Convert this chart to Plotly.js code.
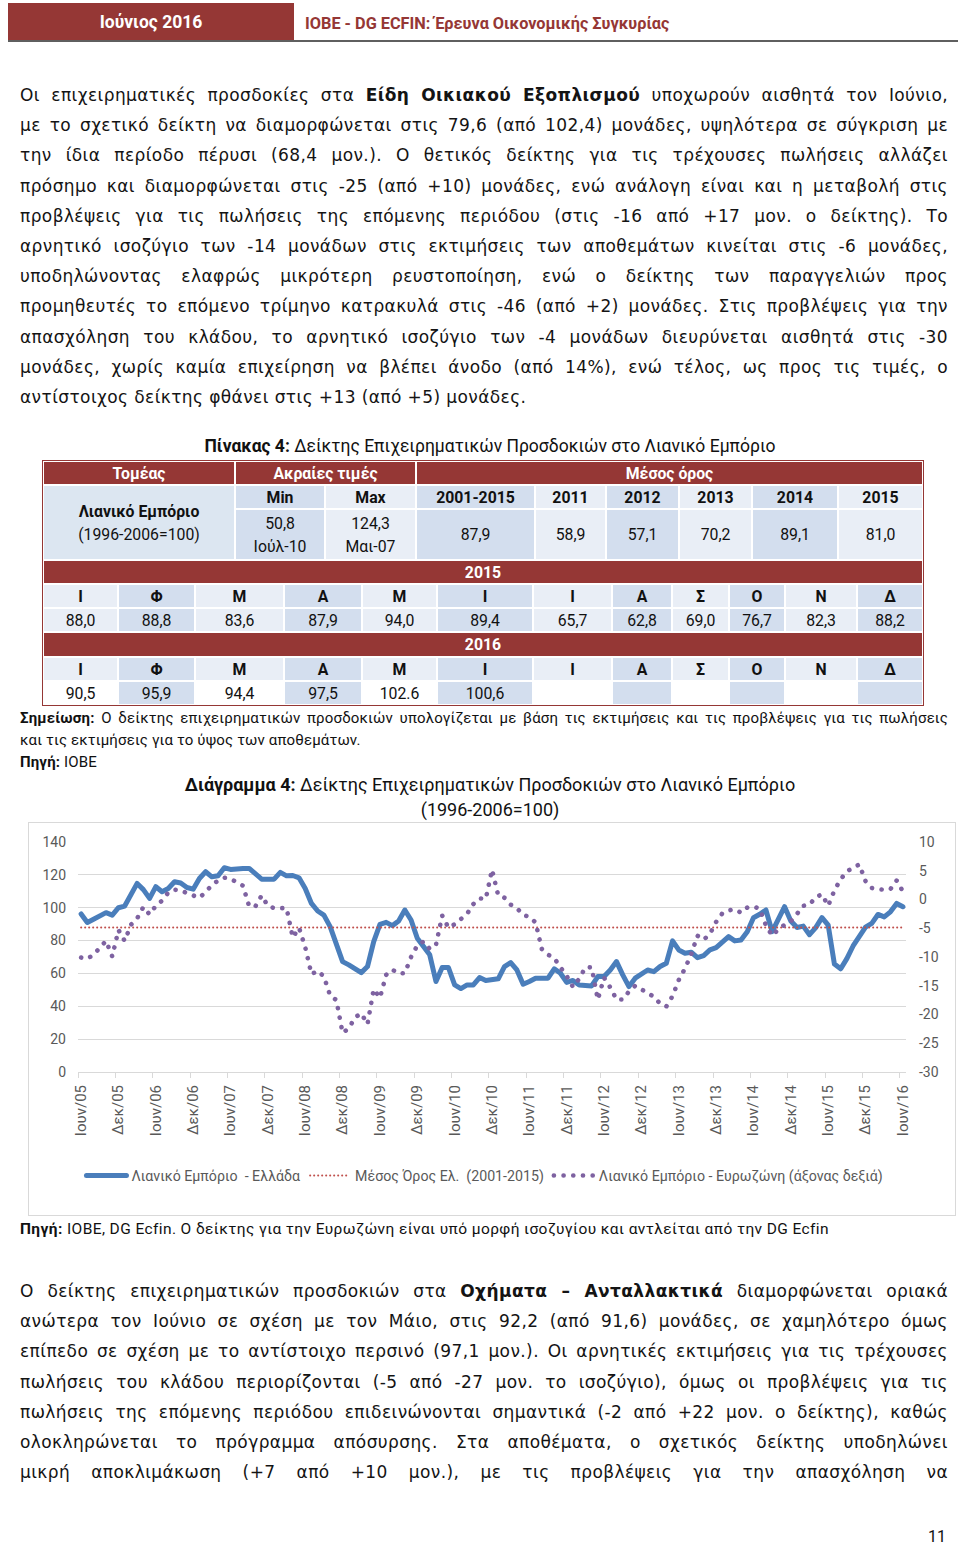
<!DOCTYPE html>
<html><head><meta charset="utf-8">
<script src="https://cdn.plot.ly/plotly-3.0.1.min.js"></script>
<style>
html,body{margin:0;padding:0;background:#fff;}
body{width:960px;height:1548px;position:relative;overflow:hidden;}
.abs{position:absolute;}
.cal{font-family:Roboto,"Noto Sans",sans-serif;}
.para{position:absolute;left:20px;width:928px;font-family:"DejaVu Sans",sans-serif;font-size:17px;letter-spacing:0.4px;color:#141414;}
.para div{height:30.2px;line-height:30.2px;text-align:justify;text-align-last:justify;overflow:visible;}
.para div.last{text-align-last:left;}
.cell{position:absolute;box-sizing:border-box;border:1px solid #fff;display:flex;align-items:center;justify-content:center;text-align:center;font-family:Roboto,"Noto Sans",sans-serif;font-size:15.8px;line-height:23px;color:#111;}
.red{background:#953735;color:#fff;font-weight:bold;}
.b{font-weight:bold;}
.js-line{stroke-linecap:round !important;stroke-linejoin:round !important;}
</style>
</head><body>

<!-- header -->
<div class="abs" style="left:8px;top:3px;width:286px;height:37px;background:#953735;"></div>
<div class="abs cal" style="left:8px;top:3px;width:286px;height:37px;line-height:38px;text-align:center;color:#fff;font-weight:bold;font-size:17.5px;">Ιούνιος 2016</div>
<div class="abs cal" style="left:305px;top:3px;height:37px;line-height:41px;color:#953735;font-weight:bold;font-size:16.3px;">ΙΟΒΕ - DG ECFIN: Έρευνα Οικονομικής Συγκυρίας</div>
<div class="abs" style="left:8px;top:40px;width:950px;height:2px;background:#5f5f5f;"></div>

<!-- paragraph 1 -->
<div class="para" style="top:80px;">
<div>Οι επιχειρηματικές προσδοκίες στα <b>Είδη Οικιακού Εξοπλισμού</b> υποχωρούν αισθητά τον Ιούνιο,</div>
<div>με το σχετικό δείκτη να διαμορφώνεται στις 79,6 (από 102,4) μονάδες, υψηλότερα σε σύγκριση με</div>
<div>την ίδια περίοδο πέρυσι (68,4 μον.). Ο θετικός δείκτης για τις τρέχουσες πωλήσεις αλλάζει</div>
<div>πρόσημο και διαμορφώνεται στις -25 (από +10) μονάδες, ενώ ανάλογη είναι και η μεταβολή στις</div>
<div>προβλέψεις για τις πωλήσεις της επόμενης περιόδου (στις -16 από +17 μον. ο δείκτης). Το</div>
<div>αρνητικό ισοζύγιο των -14 μονάδων στις εκτιμήσεις των αποθεμάτων κινείται στις -6 μονάδες,</div>
<div>υποδηλώνοντας ελαφρώς μικρότερη ρευστοποίηση, ενώ ο δείκτης των παραγγελιών προς</div>
<div>προμηθευτές το επόμενο τρίμηνο κατρακυλά στις -46 (από +2) μονάδες. Στις προβλέψεις για την</div>
<div>απασχόληση του κλάδου, το αρνητικό ισοζύγιο των -4 μονάδων διευρύνεται αισθητά στις -30</div>
<div>μονάδες, χωρίς καμία επιχείρηση να βλέπει άνοδο (από 14%), ενώ τέλος, ως προς τις τιμές, ο</div>
<div class="last">αντίστοιχος δείκτης φθάνει στις +13 (από +5) μονάδες.</div>
</div>

<!-- table caption -->
<div class="abs cal" style="left:0;width:980px;top:436px;text-align:center;font-size:17.5px;color:#111;"><b>Πίνακας 4:</b> Δείκτης Επιχειρηματικών Προσδοκιών στο Λιανικό Εμπόριο</div>
<div id="tbl" class="abs" style="left:0;top:0;width:960px;height:1px;"></div>

<!-- notes -->
<div class="abs cal" style="left:20px;width:928px;top:707px;font-size:15px;letter-spacing:0.15px;line-height:22px;color:#111;">
<div style="text-align:justify;text-align-last:justify;"><b>Σημείωση:</b> Ο δείκτης επιχειρηματικών προσδοκιών υπολογίζεται με βάση τις εκτιμήσεις και τις προβλέψεις για τις πωλήσεις</div>
<div>και τις εκτιμήσεις για το ύψος των αποθεμάτων.</div>
<div><b>Πηγή:</b> ΙΟΒΕ</div>
</div>

<!-- chart title -->
<div class="abs cal" style="left:0;width:980px;top:773px;text-align:center;font-size:18px;line-height:24.5px;color:#111;">
<div><b>Διάγραμμα 4:</b> Δείκτης Επιχειρηματικών Προσδοκιών στο Λιανικό Εμπόριο</div>
<div>(1996-2006=100)</div>
</div>

<!-- chart -->
<div class="abs" style="left:28px;top:822px;width:926px;height:392px;border:1px solid #d9d9d9;"></div>
<div id="chart" class="abs" style="left:29px;top:823px;width:926px;height:392px;"></div>

<!-- source -->
<div class="abs cal" style="left:20px;top:1218px;font-size:15.5px;letter-spacing:0.4px;line-height:22px;color:#111;"><b>Πηγή:</b> ΙΟΒΕ, DG Ecfin. Ο δείκτης για την Ευρωζώνη είναι υπό μορφή ισοζυγίου και αντλείται από την DG Ecfin</div>

<!-- paragraph 2 -->
<div class="para" style="top:1276px;">
<div>Ο δείκτης επιχειρηματικών προσδοκιών στα <b>Οχήματα – Ανταλλακτικά</b> διαμορφώνεται οριακά</div>
<div>ανώτερα τον Ιούνιο σε σχέση με τον Μάιο, στις 92,2 (από 91,6) μονάδες, σε χαμηλότερο όμως</div>
<div>επίπεδο σε σχέση με το αντίστοιχο περσινό (97,1 μον.). Οι αρνητικές εκτιμήσεις για τις τρέχουσες</div>
<div>πωλήσεις του κλάδου περιορίζονται (-5 από -27 μον. το ισοζύγιο), όμως οι προβλέψεις για τις</div>
<div>πωλήσεις της επόμενης περιόδου επιδεινώνονται σημαντικά (-2 από +22 μον. ο δείκτης), καθώς</div>
<div>ολοκληρώνεται το πρόγραμμα απόσυρσης. Στα αποθέματα, ο σχετικός δείκτης υποδηλώνει</div>
<div>μικρή αποκλιμάκωση (+7 από +10 μον.), με τις προβλέψεις για την απασχόληση να</div>
</div>

<div class="abs cal" style="left:928px;top:1527px;font-size:16px;color:#111;">11</div>

<script>
// ---------- table data ----------
const tableTopHeaders = ['Τομέας', 'Ακραίες τιμές', 'Μέσος όρος'];
const sectorName = 'Λιανικό Εμπόριο';
const sectorBase = '(1996-2006=100)';
const extremeLabels = ['Min', 'Max'];
const extremeValues = ['50,8', '124,3'];
const extremeDates = ['Ιούλ-10', 'Μαι-07'];
const avgPeriods = ['2001-2015', '2011', '2012', '2013', '2014', '2015'];
const avgValues = ['87,9', '58,9', '57,1', '70,2', '89,1', '81,0'];
const monthLetters = ['Ι', 'Φ', 'Μ', 'Α', 'Μ', 'Ι', 'Ι', 'Α', 'Σ', 'Ο', 'Ν', 'Δ'];
const values2015 = ['88,0', '88,8', '83,6', '87,9', '94,0', '89,4', '65,7', '62,8', '69,0', '76,7', '82,3', '88,2'];
const values2016 = ['90,5', '95,9', '94,4', '97,5', '102.6', '100,6', '', '', '', '', '', ''];

// ---------- chart data ----------
const monthNames = ['Ιαν', 'Φεβ', 'Μαρ', 'Απρ', 'Μαϊ', 'Ιουν', 'Ιουλ', 'Αυγ', 'Σεπ', 'Οκτ', 'Νοε', 'Δεκ'];
const firstYear = 2005, firstMonth = 5; // Ιούνιος 2005
const retailGreece = [
 96.2, 91.0, 93.0, 95.0, 97.0, 95.5, 100.0, 101.0, 108.7, 114.8, 111.0, 105.7,
 112.8, 109.7, 111.7, 115.8, 115.0, 112.3, 111.3, 117.8, 121.9, 118.8, 119.4, 124.3,
 123.3, 123.9, 123.9, 123.9, 120.9, 117.4, 117.4, 117.4, 121.5, 119.4, 119.6, 118.2,
 111.7, 102.6, 98.0, 95.5, 88.5, 77.3, 67.2, 65.2, 62.8, 60.5, 64.2, 79.4,
 89.9, 91.1, 89.1, 91.9, 98.6, 92.5, 81.4, 76.3, 71.3, 55.1, 63.6, 63.6,
 53.0, 50.8, 53.0, 53.0, 57.5, 55.7, 56.1, 56.7, 64.2, 66.6, 62.1, 53.4,
 55.1, 57.1, 57.1, 57.1, 62.8, 60.1, 54.5, 55.7, 53.0, 52.4, 52.4, 58.1,
 58.1, 62.1, 67.2, 59.1, 52.0, 57.1, 59.5, 62.1, 61.1, 64.2, 66.2, 79.8,
 74.3, 72.3, 72.9, 69.6, 70.9, 74.3, 75.7, 79.0, 82.4, 79.8, 80.4, 85.4,
 93.9, 96.0, 98.6, 85.4, 93.1, 100.6, 91.9, 88.0, 88.8, 83.6, 87.9, 94.0,
 89.4, 65.7, 62.8, 69.0, 76.7, 82.3, 88.2, 90.5, 95.9, 94.4, 97.5, 102.6,
 100.6
];
const retailEurozone = [
 -10.1, -10.3, -9.6, -8.5, -7.2, -9.9, -5.3, -7.2, -4.4, -3.3, -1.3, -2.6,
 -1.1, -0.2, 1.2, 1.7, 1.6, 1.1, 0.6, 0.3, 1.3, 2.5, 3.3, 3.8,
 3.6, 3.0, 2.4, -1.2, -1.2, 0.7, -1.1, -1.5, -1.6, -1.5, -6.6, -4.9,
 -8.3, -13.0, -12.4, -13.4, -16.7, -17.5, -23.2, -22.4, -20.5, -19.8, -21.7, -15.6,
 -17.1, -13.1, -12.2, -12.9, -12.8, -10.0, -8.0, -7.3, -8.6, -7.9, -2.8, -4.9,
 -4.3, -3.5, -2.5, -0.8, 0.2, 0.1, 5.2, 0.7, 0.3, -0.9, -1.5, -2.7,
 -3.0, -4.0, -8.6, -9.6, -10.2, -11.8, -13.3, -15.2, -13.8, -11.8, -11.8, -17.4,
 -13.6, -15.3, -17.4, -17.4, -16.0, -15.0, -15.7, -16.3, -16.9, -18.1, -18.6, -16.8,
 -14.0, -12.0, -9.5, -6.3, -7.0, -6.0, -3.9, -2.4, -1.9, -1.7, -2.3, -1.4,
 -1.2, -1.6, -4.5, -6.3, -5.2, -4.4, -3.8, -2.5, -1.1, -0.9, 0.4, 0.9,
 -1.1, 1.6, 3.5, 4.9, 5.6, 6.1, 3.2, 2.0, 1.8, 1.7, 1.8, 3.3,
 1.4
];
const averageGreece20012015 = 87.9;
const leftTicks = [0, 20, 40, 60, 80, 100, 120, 140];
const rightTicks = [-30, -25, -20, -15, -10, -5, 0, 5, 10];
const seriesNames = ['Λιανικό Εμπόριο\u00a0 - Ελλάδα', 'Μέσος Όρος Ελ.\u00a0 (2001-2015)', 'Λιανικό Εμπόριο - Ευρωζώνη (άξονας δεξιά)'];

// ---------- build table ----------
const tbl = document.getElementById('tbl');
function cell(x1, y1, x2, y2, bg, html, cls) {
  const d = document.createElement('div');
  d.className = 'cell ' + (cls || '');
  d.style.left = x1 + 'px'; d.style.top = y1 + 'px';
  d.style.width = (x2 - x1) + 'px'; d.style.height = (y2 - y1) + 'px';
  if (bg) d.style.background = bg;
  d.innerHTML = html;
  tbl.appendChild(d);
}
const DARK = '#D3DEEE', LIGHT = '#E9EEF6', LEFT = '#DCE6F1', WHITE = '#FFFFFF';
const topCols = [43, 235, 325, 416, 535, 606, 679, 752, 838, 923];
const botCols = [43, 118, 195, 284, 362, 437, 533, 612, 672, 729, 785, 857, 923];
const R = [461, 485, 509, 560, 584, 608, 632, 657, 681, 705];
cell(topCols[0], R[0], topCols[1], R[1], null, tableTopHeaders[0], 'red');
cell(topCols[1], R[0], topCols[3], R[1], null, tableTopHeaders[1], 'red');
cell(topCols[3], R[0], topCols[9], R[1], null, tableTopHeaders[2], 'red');
cell(topCols[0], R[1], topCols[1], R[3], LEFT, '<div><b>' + sectorName + '</b><br>' + sectorBase + '</div>');
for (let k = 0; k < 2; k++) {
  const bg = k % 2 === 0 ? DARK : LIGHT;
  cell(topCols[1 + k], R[1], topCols[2 + k], R[2], bg, extremeLabels[k], 'b');
  cell(topCols[1 + k], R[2], topCols[2 + k], R[3], bg, '<div>' + extremeValues[k] + '<br>' + extremeDates[k] + '</div>');
}
for (let k = 0; k < avgPeriods.length; k++) {
  const bg = k % 2 === 0 ? DARK : LIGHT;
  cell(topCols[3 + k], R[1], topCols[4 + k], R[2], bg, avgPeriods[k], 'b');
  cell(topCols[3 + k], R[2], topCols[4 + k], R[3], bg, avgValues[k]);
}
cell(43, R[3], 923, R[4], null, '2015', 'red');
cell(43, R[6], 923, R[7], null, '2016', 'red');
for (let k = 0; k < 12; k++) {
  const bg = k % 2 === 0 ? LIGHT : DARK;
  cell(botCols[k], R[4], botCols[k + 1], R[5], bg, monthLetters[k], 'b');
  cell(botCols[k], R[5], botCols[k + 1], R[6], bg, values2015[k]);
  cell(botCols[k], R[7], botCols[k + 1], R[8], bg, monthLetters[k], 'b');
  cell(botCols[k], R[8], botCols[k + 1], R[9], k % 2 === 0 ? WHITE : DARK, values2016[k]);
}
const frame = document.createElement('div');
frame.style.cssText = 'position:absolute;left:42px;top:460px;width:880px;height:244px;border:1.5px solid #953735;';
tbl.appendChild(frame);

// ---------- chart ----------
const monthLabels = retailGreece.map((_, k) => {
  const m = firstMonth + k;
  return monthNames[m % 12] + '/' + String(firstYear + Math.floor(m / 12)).slice(2);
});
const xIdx = monthLabels.map((_, k) => k);
const tickIdx = xIdx.filter(k => k % 6 === 0);
const lastIdx = xIdx[xIdx.length - 1];

const traces = [
  { x: xIdx, y: retailGreece, type: 'scatter', mode: 'lines', name: seriesNames[0],
    line: { color: '#4A7EBB', width: 5 }, hoverinfo: 'skip' },
  { x: [xIdx[0], lastIdx], y: [averageGreece20012015, averageGreece20012015], type: 'scatter', mode: 'lines', name: seriesNames[1],
    line: { color: '#C0504D', width: 2, dash: '0.1px,3.9px' }, hoverinfo: 'skip' },
  { x: xIdx, y: retailEurozone, type: 'scatter', mode: 'lines', name: seriesNames[2], yaxis: 'y2',
    line: { color: '#7E62A1', width: 4.6, dash: '0.1px,9.6px' }, hoverinfo: 'skip' }
];

const layout = {
  width: 926, height: 392,
  margin: { l: 49, r: 49, t: 19, b: 143, autoexpand: false },
  paper_bgcolor: 'rgba(0,0,0,0)', plot_bgcolor: 'rgba(0,0,0,0)',
  font: { family: 'Roboto, "Noto Sans", sans-serif', size: 14, color: '#595959' },
  showlegend: true,
  legend: { orientation: 'h', x: 0.4915, xanchor: 'center', y: -0.451, yanchor: 'middle',
    font: { size: 14.2, color: '#595959' }, itemwidth: 40, bgcolor: 'rgba(0,0,0,0)' },
  xaxis: {
    range: [-0.5, lastIdx + 0.5], tickmode: 'array', tickvals: tickIdx,
    ticktext: tickIdx.map(k => monthLabels[k]), tickangle: -90, ticks: '',
    tickfont: { size: 15 },
    showgrid: false, zeroline: false, showline: true, linecolor: '#d9d9d9', linewidth: 1,
    ticklabelstandoff: 6, fixedrange: true,
    minor: { tickmode: 'array', tickvals: tickIdx.map(k => k - 0.5), ticks: 'outside', ticklen: 5, tickcolor: '#d9d9d9', tickwidth: 1, showgrid: false }
  },
  yaxis: {
    range: [0, 140], tickmode: 'array', tickvals: leftTicks, ticktext: leftTicks.map(String),
    showgrid: true, gridcolor: '#d9d9d9', gridwidth: 1, zeroline: false, ticks: '', ticklabelstandoff: 11, fixedrange: true
  },
  yaxis2: {
    overlaying: 'y', side: 'right', range: [-30, 10], tickmode: 'array', tickvals: rightTicks,
    ticktext: rightTicks.map(String), showgrid: false, zeroline: false, ticks: '', ticklabelstandoff: 12, fixedrange: true
  }
};
Plotly.newPlot('chart', traces, layout, { displayModeBar: false, staticPlot: true });
</script>
</body></html>
